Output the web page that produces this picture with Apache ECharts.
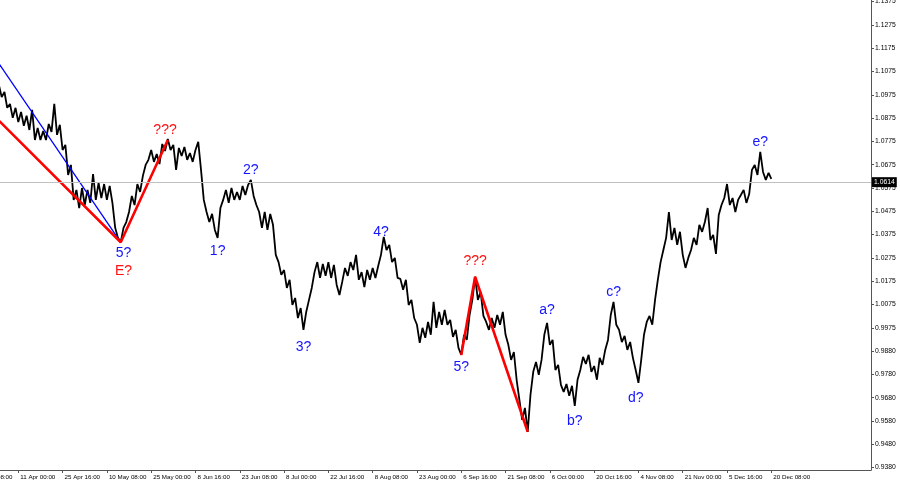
<!DOCTYPE html>
<html>
<head>
<meta charset="utf-8">
<title>EURUSD H4</title>
<script src="https://cdn.jsdelivr.net/npm/echarts@6/dist/echarts.min.js"></script>
<style>
  html, body { margin: 0; padding: 0; background: #fff; }
  #chart { width: 900px; height: 485px; }
</style>
</head>
<body>
<div id="chart"></div>
<script>
// time labels, one every 16 slots (a slot = 4 H4 bars)
const xLabels = ['25 Mar 08:00', '11 Apr 00:00', '25 Apr 16:00', '10 May 08:00', '25 May 00:00', '8 Jun 16:00',
  '23 Jun 08:00', '8 Jul 00:00', '22 Jul 16:00', '8 Aug 08:00', '23 Aug 00:00', '6 Sep 16:00',
  '21 Sep 08:00', '6 Oct 00:00', '20 Oct 16:00', '4 Nov 08:00', '21 Nov 00:00', '5 Dec 16:00', '20 Dec 08:00'];
const slotCount = 325;
const firstSlot = 9;

// price axis ticks and the text MT4 prints next to them
const yTicks = [0.9375, 0.9475, 0.9575, 0.9675, 0.9775, 0.9875, 0.9975, 1.0075, 1.0175, 1.0275, 1.0375,
  1.0475, 1.0575, 1.0675, 1.0775, 1.0875, 1.0975, 1.1075, 1.1175, 1.1275, 1.1375];
const yTickText = ['0.9380', '0.9480', '0.9580', '0.9680', '0.9780', '0.9880', '0.9975', '1.0075', '1.0175',
  '1.0275', '1.0375', '1.0475', '1.0575', '1.0675', '1.0775', '1.0875', '1.0975', '1.1075', '1.1175',
  '1.1275', '1.1375'];

// price path (high / low swings), from slot 9
const prices = [
  1.1017, 1.0965, 1.0987, 1.0919, 1.0936, 1.0876, 1.0919, 1.0858, 1.0901, 1.0842, 1.0885,
  1.0824, 1.0910, 1.0781, 1.0833, 1.0781, 1.0820, 1.0781, 1.0850, 1.0816, 1.0936,
  1.0803, 1.0846, 1.0738, 1.0760, 1.0631, 1.0674, 1.0524, 1.0567, 1.0489, 1.0575,
  1.0502, 1.0567, 1.0511, 1.0635, 1.0524, 1.0597, 1.0532, 1.0592, 1.0524, 1.0584,
  1.0511, 1.0404, 1.0361, 1.0343, 1.0404, 1.0429, 1.0472, 1.0541, 1.0502, 1.0592,
  1.0558, 1.0627, 1.0674, 1.0696, 1.0738, 1.0687, 1.0721, 1.0678, 1.0764, 1.0734,
  1.0785, 1.0738, 1.0760, 1.0653, 1.0747, 1.0712, 1.0751, 1.0696, 1.0725, 1.0687,
  1.0738, 1.0773, 1.0653, 1.0524, 1.0472, 1.0429, 1.0464, 1.0395, 1.0361, 1.0489,
  1.0524, 1.0567, 1.0511, 1.0575, 1.0524, 1.0558, 1.0524, 1.0584, 1.0545, 1.0588,
  1.0610, 1.0541, 1.0502, 1.0472, 1.0404, 1.0472, 1.0395, 1.0464, 1.0417, 1.0288,
  1.0257, 1.0202, 1.0223, 1.0146, 1.0181, 1.0073, 1.0103, 1.0017, 1.0060, 0.9966,
  1.0043, 1.0095, 1.0146, 1.0214, 1.0257, 1.0189, 1.0249, 1.0198, 1.0257, 1.0189,
  1.0245, 1.0159, 1.0116, 1.0172, 1.0232, 1.0198, 1.0257, 1.0223, 1.0288, 1.0181,
  1.0214, 1.0150, 1.0223, 1.0181, 1.0232, 1.0189, 1.0240, 1.0288, 1.0365, 1.0309,
  1.0331, 1.0257, 1.0275, 1.0189, 1.0185, 1.0138, 1.0181, 1.0073, 1.0095, 1.0017,
  0.9988, 0.9910, 0.9975, 0.9932, 1.0000, 0.9945, 1.0086, 0.9975, 1.0043, 0.9988,
  1.0052, 0.9988, 1.0009, 0.9936, 0.9966, 0.9889, 0.9859, 0.9945, 0.9923, 1.0030,
  1.0095, 1.0194, 1.0095, 1.0129, 1.0026, 1.0000, 0.9966, 1.0017, 0.9975, 1.0030,
  0.9988, 1.0043, 0.9945, 0.9902, 0.9837, 0.9871, 0.9752, 0.9666, 0.9580, 0.9631,
  0.9528, 0.9687, 0.9786, 0.9828, 0.9773, 0.9837, 0.9945, 0.9996, 0.9902, 0.9923,
  0.9794, 0.9816, 0.9730, 0.9700, 0.9734, 0.9683, 0.9726, 0.9640, 0.9752, 0.9794,
  0.9850, 0.9820, 0.9859, 0.9786, 0.9811, 0.9752, 0.9846, 0.9816, 0.9880, 0.9923,
  1.0030, 1.0086, 0.9988, 0.9966, 0.9914, 0.9940, 0.9880, 0.9914, 0.9846, 0.9794,
  0.9739, 0.9837, 0.9945, 1.0000, 1.0026, 0.9988, 1.0095, 1.0181, 1.0257, 1.0309,
  1.0361, 1.0472, 1.0352, 1.0404, 1.0331, 1.0387, 1.0288, 1.0232, 1.0275, 1.0309,
  1.0361, 1.0331, 1.0417, 1.0387, 1.0429, 1.0489, 1.0352, 1.0374, 1.0292, 1.0459,
  1.0502, 1.0532, 1.0592, 1.0502, 1.0532, 1.0472, 1.0524, 1.0545, 1.0567, 1.0511,
  1.0549, 1.0653, 1.0674, 1.0631, 1.0730, 1.0644, 1.0610, 1.0640, 1.0614
];
const lastPrice = 1.0614;

// wave lines: [slot, price]
const blueLine = [[9, 1.1109], [53, 1.0342]];
const redLineA = [[9, 1.0864], [53, 1.0342], [70, 1.0781]];
const redLineB = [[176, 0.9858], [181, 1.0194], [200, 0.9529]];

// wave labels
const waveText = ['???', '5?', 'E?', '1?', '2?', '3?', '4?', '???', '5?', 'a?', 'b?', 'c?', 'd?', 'e?'];
const waveSlot = [69, 54, 54, 88, 100, 119, 147, 181, 176, 207, 217, 231, 239, 284];
const wavePrice = [1.0824, 1.0296, 1.0219, 1.0305, 1.0653, 0.9893, 1.0387, 1.0262, 0.9807, 1.0052,
  0.9575, 1.0129, 0.9674, 1.0773];
const waveRed = [true, false, true, false, false, false, false, true, false, false, false, false, false, false];

const slots = [];
for (let i = 0; i < slotCount; i++) slots.push(String(i));
const priceData = new Array(firstSlot).fill(null).concat(prices);
const showSlot = (i) => i % 16 === 0 && i / 16 < xLabels.length;

const waveData = waveText.map((t, i) => ({
  name: t,
  value: [waveSlot[i], wavePrice[i]],
  label: { color: waveRed[i] ? '#ff1010' : '#1414ff' }
}));

const myChart = echarts.init(document.getElementById('chart'));
const option = {
  animation: false,
  backgroundColor: '#ffffff',
  grid: { left: -26, right: 29, top: 0, bottom: 15, containLabel: false, outerBoundsMode: 'none' },
  xAxis: {
    type: 'category',
    data: slots,
    boundaryGap: false,
    axisLine: { lineStyle: { color: '#555', width: 1 } },
    axisTick: { interval: (i) => showSlot(i), length: 3, lineStyle: { color: '#555' } },
    axisLabel: {
      interval: (i) => showSlot(i),
      formatter: (v, i) => xLabels[i / 16] || '',
      align: 'left',
      margin: 4,
      padding: [0, 0, 0, 2],
      color: '#000',
      fontFamily: 'Liberation Sans',
      fontSize: 6.2
    },
    splitLine: { show: false }
  },
  yAxis: {
    type: 'value',
    position: 'right',
    min: 0.93647,
    max: 1.13819,
    axisLine: { show: true, lineStyle: { color: '#555', width: 1 } },
    axisTick: { show: true, customValues: yTicks, length: 3, lineStyle: { color: '#555' } },
    axisLabel: {
      customValues: yTicks,
      formatter: (v) => yTickText[Math.round((v - 0.9375) / 0.01)],
      margin: 4,
      color: '#000',
      fontFamily: 'Liberation Sans',
      fontSize: 6.8
    },
    splitLine: { show: false }
  },
  series: [
    {
      name: 'EURUSD',
      type: 'line',
      data: priceData,
      symbol: 'none',
      lineStyle: { color: '#000', width: 1.8 },
      z: 2,
      markLine: {
        silent: true,
        symbol: 'none',
        lineStyle: { color: '#c0c0c0', width: 1, type: 'solid' },
        label: {
          position: 'end',
          formatter: lastPrice.toFixed(4),
          backgroundColor: '#000',
          color: '#fff',
          fontFamily: 'Liberation Sans',
          fontSize: 6.8,
          padding: [2, 2, 1, 2],
          distance: 1
        },
        data: [{ yAxis: lastPrice }]
      }
    },
    {
      type: 'line',
      data: blueLine,
      symbol: 'none',
      lineStyle: { color: '#0000ff', width: 1.3 },
      z: 3
    },
    {
      type: 'line',
      data: redLineA,
      symbol: 'none',
      lineStyle: { color: '#ff0000', width: 2.6 },
      z: 4
    },
    {
      type: 'line',
      data: redLineB,
      symbol: 'none',
      lineStyle: { color: '#ff0000', width: 2.6 },
      z: 4
    },
    {
      type: 'scatter',
      data: waveData,
      symbolSize: 0,
      itemStyle: { color: 'rgba(0,0,0,0)', opacity: 1 },
      label: {
        show: true,
        position: 'inside',
        opacity: 1,
        textBorderWidth: 0,
        formatter: (p) => p.name,
        fontFamily: 'Liberation Sans',
        fontSize: 14
      },
      z: 5
    }
  ]
};
myChart.setOption(option, true);
window.addEventListener('resize', () => {
  myChart.resize();
});
</script>
</body>
</html>
